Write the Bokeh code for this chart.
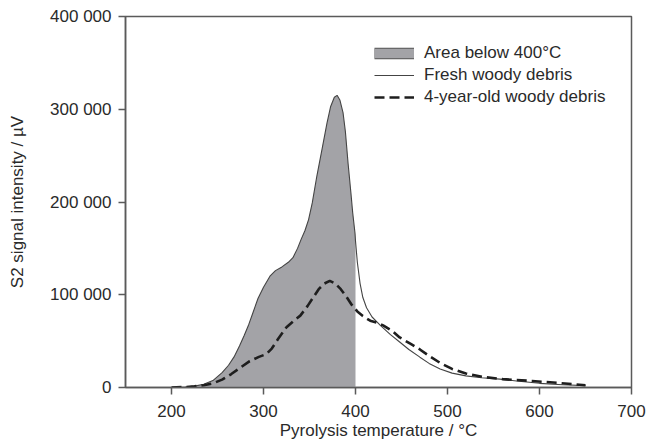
from bokeh.plotting import figure
from bokeh.models import Range1d, Legend, LegendItem, FixedTicker, ColumnDataSource
from bokeh.embed import file_html
from bokeh.resources import INLINE

# ---- data ----
fresh_temp = [200, 215, 225, 235, 245, 255, 262, 268, 274, 279, 284, 289, 294, 300,
              307, 313, 320, 327, 332, 337, 341, 345, 349, 353, 358, 364, 369, 373,
              377, 380, 383, 386.5, 389, 392, 395, 397, 399.5, 400, 402, 405, 408,
              412, 418, 427, 438, 448, 458, 470, 480, 492, 505, 520, 537, 557, 575,
              600, 625, 650]
fresh_val = [0, 500, 1500, 3500, 7500, 16000, 24000, 33000, 45000, 56000, 68000, 82000,
             96000, 108000, 120000, 126000, 130000, 135000, 140000, 150000, 160000,
             169000, 181000, 199000, 228000, 259000, 285000, 303000, 313000, 315000,
             310000, 296000, 276000, 241000, 210000, 188000, 166000, 158000, 135000,
             112000, 97000, 86000, 76000, 67000, 57000, 49000, 41000, 32700, 26000,
             20000, 15500, 12500, 10500, 9000, 7000, 4500, 3000, 2000]

aged_temp = [200, 215, 225, 235, 245, 255, 265, 275, 285, 295, 303, 309, 316, 325, 333,
             340, 348, 354, 360, 366, 372, 378, 384, 390, 396, 402, 408, 416, 423, 430,
             440, 448, 460, 470, 480, 492, 505, 520, 538, 560, 592, 620, 650]
aged_val = [0, 500, 1200, 2500, 4500, 8500, 14500, 21500, 28500, 33000, 36000, 42000,
            52500, 65000, 72000, 77500, 88000, 97000, 106000, 112000, 115000, 112000,
            106000, 98000, 89000, 82000, 77000, 72000, 70000, 67000, 61000, 54000,
            47000, 41000, 34000, 26500, 20000, 15000, 11500, 9000, 7000, 5000, 2500]

x_ticks = [200, 300, 400, 500, 600, 700]
y_ticks = [0, 100000, 200000, 300000, 400000]
y_tick_labels = ["0", "100 000", "200 000", "300 000", "400 000"]
area_limit = 400

labels = ["Area below 400°C", "Fresh woody debris", "4-year-old woody debris"]
x_title = "Pyrolysis temperature / °C"
y_title = "S2 signal intensity / µV"

# ---- figure ----
FONT = "Liberation Sans"
AXIS_COL = "#5a5a5a"
TEXT_COL = "#2a2a2a"
FILL_COL = "#a3a3a7"

p = figure(width=646, height=447, output_backend="svg", toolbar_location=None,
           x_range=Range1d(150, 700), y_range=Range1d(0, 400000),
           min_border_left=125, min_border_right=15, min_border_top=16, min_border_bottom=60)
p.grid.visible = False
p.outline_line_color = AXIS_COL
p.outline_line_width = 1.5
p.background_fill_color = "white"
p.border_fill_color = "white"

area_x = [t for t in fresh_temp if t <= area_limit]
area_y = fresh_val[:len(area_x)]
area_src = ColumnDataSource(dict(x=area_x, y1=[0] * len(area_x), y2=area_y))
p.varea(x="x", y1="y1", y2="y2", source=area_src, fill_color=FILL_COL)

fresh_r = p.line(fresh_temp, fresh_val, line_color="#444444", line_width=1.1)
aged_r = p.line(aged_temp, aged_val, line_color="#1e1e1e", line_width=2.6,
                line_dash="10 5")

# legend proxy glyphs (NaN data, nothing drawn in the plot) for the area swatch
nan = float("nan")
proxy = ColumnDataSource(dict(x=[nan], y=[nan]))
sw_border = p.line(x="x", y="y", source=proxy, line_color="#555555", line_width=11.5)
sw_fill = p.line(x="x", y="y", source=proxy, line_color=FILL_COL, line_width=9.5)

legend = Legend(items=[
    LegendItem(label=labels[0], renderers=[sw_border, sw_fill]),
    LegendItem(label=labels[1], renderers=[fresh_r]),
    LegendItem(label=labels[2], renderers=[aged_r]),
], location=(249, 279))
legend.margin = 0
legend.padding = 0
legend.spacing = 0
legend.border_line_color = None
legend.background_fill_alpha = 0
legend.glyph_width = 40
legend.glyph_height = 22
legend.label_height = 22
legend.label_standoff = 10
legend.label_text_font = FONT
legend.label_text_font_size = "17px"
legend.label_text_color = TEXT_COL
p.add_layout(legend)

for ax in (p.xaxis[0], p.yaxis[0]):
    ax.axis_line_color = AXIS_COL
    ax.axis_line_width = 1.5
    ax.major_tick_line_color = AXIS_COL
    ax.major_tick_line_width = 1.5
    ax.major_tick_in = 0
    ax.major_tick_out = 7
    ax.minor_tick_line_color = None
    ax.major_label_text_font = FONT
    ax.major_label_text_font_size = "17px"
    ax.major_label_text_color = TEXT_COL
    ax.axis_label_text_font = FONT
    ax.axis_label_text_font_size = "17px"
    ax.axis_label_text_font_style = "normal"
    ax.axis_label_text_color = TEXT_COL

p.xaxis[0].ticker = FixedTicker(ticks=x_ticks)
p.yaxis[0].ticker = FixedTicker(ticks=y_ticks)
p.yaxis[0].major_label_overrides = {t: l for t, l in zip(y_ticks, y_tick_labels)}
p.xaxis[0].axis_label = x_title
p.yaxis[0].axis_label = y_title
p.xaxis[0].major_label_standoff = 10
p.xaxis[0].axis_label_standoff = 1
p.yaxis[0].major_label_standoff = 7
p.yaxis[0].axis_label_standoff = 20

open("out.html", "w").write(file_html(p, INLINE))
